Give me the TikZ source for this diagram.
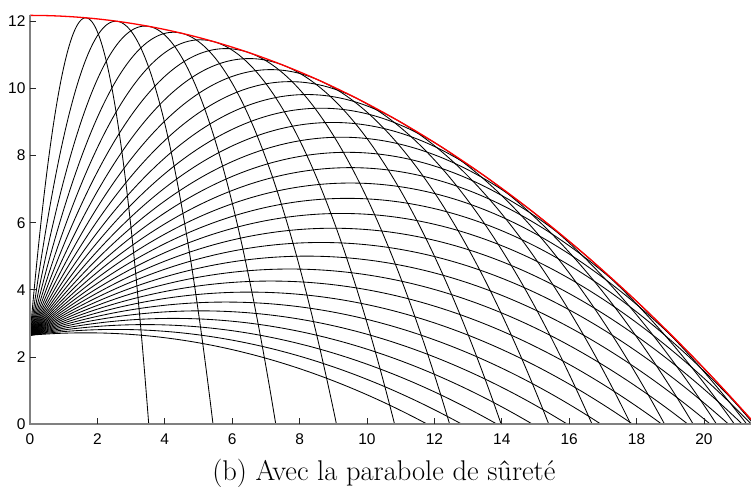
\documentclass[tikz,border=0pt]{standalone}
\usepackage{fontspec}
\newfontfamily\ticksfont{Liberation Sans}
\begin{document}
\begin{tikzpicture}[x=33.7pt,y=33.6pt,
  traj/.style={black,line width=0.85pt},
  env/.style={red,line width=1.3pt},
  axisline/.style={black!50,line width=1.8pt},
  tickmark/.style={black!85,line width=0.9pt},
  ticklabel/.style={font=\ticksfont\fontsize{15.5}{18}\selectfont,inner sep=0pt},
  captionstyle/.style={font=\fontsize{28.5}{32}\selectfont,inner sep=0pt}]
\useasboundingbox (-0.8902,-1.866) rectangle (21.395,12.628);
\def\A{9.52}
\def\h{2.65}
\begin{scope}
\clip (-0.1,-0.05) rectangle (21.395,12.6);
\foreach \k in {0,...,29}{
  \pgfmathsetmacro\th{5+80*\k/29}
  \pgfmathsetmacro\U{2*\A*(sin(\th)+sqrt(sin(\th)^2+\h/\A))}
  \draw[traj] plot[domain=0:\U,samples=160,variable=\u] ({\u*cos(\th)},{\h+\u*sin(\th)-\u*\u/(4*\A)});
}
\draw[env] plot[domain=0:21.6,samples=120] (\x,{\A+\h-\x*\x/(4*\A)});
\end{scope}
\coordinate (O) at (0,0);
\coordinate (ytop) at (0,12.18);
\coordinate (xend) at (21.395,0);
\draw[axisline] (ytop) -- (O) -- (xend);
\foreach \x in {2,4,...,20}{
  \draw[tickmark] (\x,0) -- ++(0,6pt);
}
\foreach \x in {0,2,...,20}{
  \node[ticklabel,anchor=base] (xl\x) at (\x,-0.60) {\x};
}
\foreach \y in {2,4,...,12}{
  \draw[tickmark] (0,\y) -- ++(6pt,0);
}
\foreach \y in {0,2,...,12}{
  \node[ticklabel,anchor=east] (yl\y) at (-0.13,\y) {\y};
}
\node[captionstyle,anchor=base] (cap) at (10.50,-1.68) {(b) Avec la parabole de sûreté};
\end{tikzpicture}
\end{document}
